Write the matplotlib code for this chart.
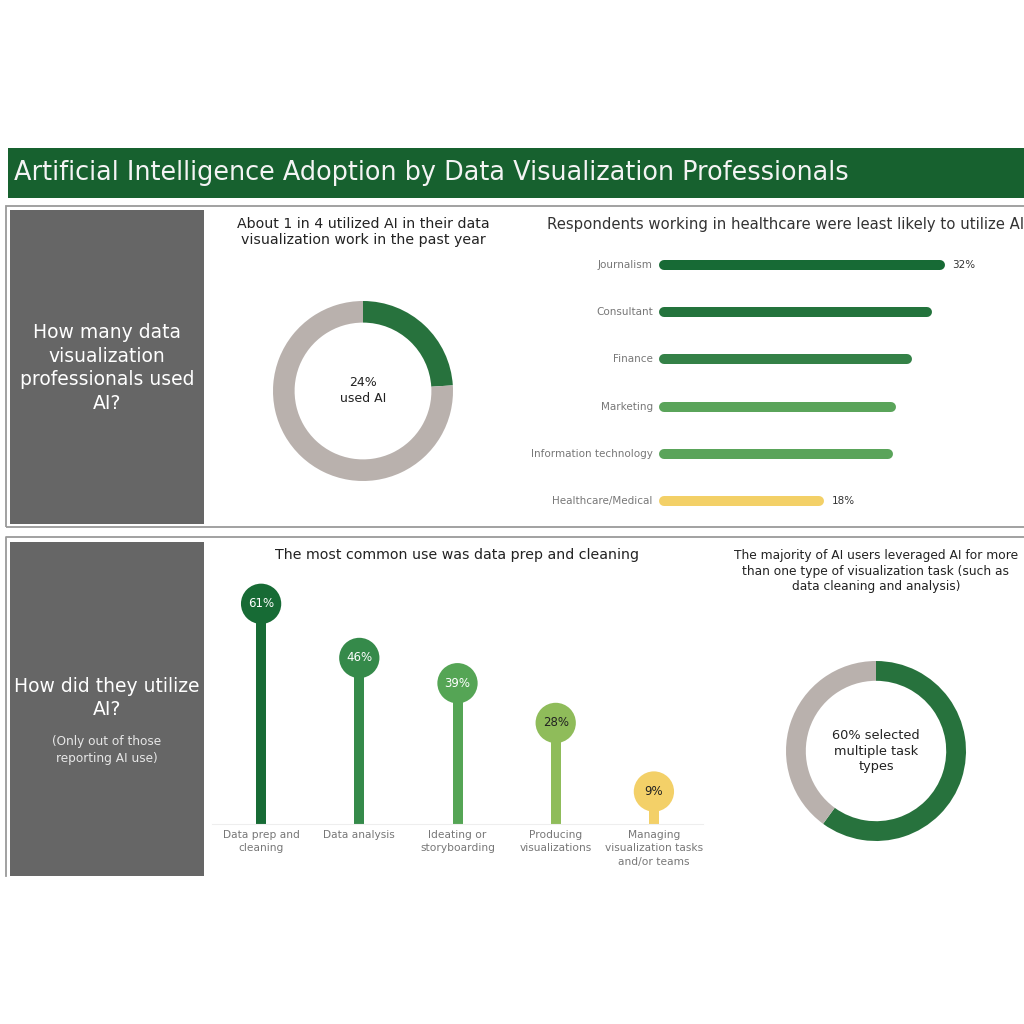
import matplotlib
matplotlib.use("Agg")
import matplotlib.pyplot as plt
from matplotlib.patches import Rectangle
from matplotlib.lines import Line2D

# ---------------- data ----------------
title = "Artificial Intelligence Adoption by Data Visualization Professionals"

used_ai_share = [24, 76]
used_ai_title = "About 1 in 4 utilized AI in their data\nvisualization work in the past year"
used_ai_center = "24%\nused AI"

industries = ["Journalism", "Consultant", "Finance", "Marketing",
              "Information technology", "Healthcare/Medical"]
industry_values = [32, 30.5, 28.2, 26.3, 26.0, 18]
industry_colors = ["#176a35", "#23733c", "#348147", "#5aa45a", "#5aa45a", "#f3d067"]
industry_labels = ["32%", "", "", "", "", "18%"]
industry_title = "Respondents working in healthcare were least likely to utilize AI"

tasks = ["Data prep and\ncleaning", "Data analysis", "Ideating or\nstoryboarding",
         "Producing\nvisualizations", "Managing\nvisualization tasks\nand/or teams"]
task_values = [61, 46, 39, 28, 9]
task_colors = ["#176b35", "#358a4a", "#55a555", "#8fbc5a", "#f3d068"]
task_text_colors = ["white", "white", "white", "#222222", "#222222"]
task_title = "The most common use was data prep and cleaning"

multi_share = [60, 40]
multi_title = ("The majority of AI users leveraged AI for more\n"
               "than one type of visualization task (such as\n"
               "data cleaning and analysis)")
multi_center = "60% selected\nmultiple task\ntypes"

q1 = "How many data\nvisualization\nprofessionals used\nAI?"
q2 = "How did they utilize\nAI?"
q2_sub = "(Only out of those\nreporting AI use)"

GREEN = "#27723d"
GREY = "#b9b1ad"
HEADER = "#17612f"
BOX = "#666666"
FRAME = "#9a9a9a"

# ---------------- figure ----------------
W = H = 1024
fig = plt.figure(figsize=(10.24, 10.24), dpi=100)
fig.patch.set_facecolor("white")


def fx(x):
    return x / W


def fy(y):
    return 1 - y / H


def ax_px(x0, y0, x1, y1):
    return fig.add_axes([fx(x0), fy(y1), (x1 - x0) / W, (y1 - y0) / H])


def rect_px(x0, y0, x1, y1, **kw):
    fig.patches.append(Rectangle((fx(x0), fy(y1)), (x1 - x0) / W, (y1 - y0) / H,
                                 transform=fig.transFigure, **kw))


def line_px(xs, ys, **kw):
    fig.lines.append(Line2D([fx(x) for x in xs], [fy(y) for y in ys],
                            transform=fig.transFigure, **kw))


# header
rect_px(8, 148, 1030, 198, facecolor=HEADER, edgecolor="none")
fig.text(fx(14), fy(173), title, color="#f4f4f4", fontsize=18.4, va="center", ha="left")

# panel frames
rect_px(6, 206, 1030, 527, facecolor="none", edgecolor=FRAME, linewidth=1.3)
line_px([6, 6, 1030], [876, 537, 537], color=FRAME, linewidth=1.3)

# grey question boxes
rect_px(10, 210, 204, 524, facecolor=BOX, edgecolor="none")
rect_px(10, 542, 204, 876, facecolor=BOX, edgecolor="none")
fig.text(fx(107), fy(368), q1, color="white", fontsize=13.5, ha="center", va="center",
         linespacing=1.3)
fig.text(fx(107), fy(698), q2, color="white", fontsize=13.5, ha="center", va="center",
         linespacing=1.3)
fig.text(fx(107), fy(750), q2_sub, color="#e6e6e6", fontsize=8.7, ha="center", va="center",
         linespacing=1.4)

# ---------- donut 1 ----------
ax1 = ax_px(273, 301, 453, 481)
ax1.pie(used_ai_share, colors=[GREEN, GREY], startangle=90, counterclock=False,
        wedgeprops=dict(width=0.24, edgecolor="none"), radius=1)
ax1.set_xlim(-1, 1)
ax1.set_ylim(-1, 1)
ax1.set_aspect("equal")
ax1.text(0, 0, used_ai_center, ha="center", va="center", fontsize=9, color="#222222",
         linespacing=1.3)
fig.text(fx(363), fy(232), used_ai_title, ha="center", va="center", fontsize=10.2,
         color="#222222", linespacing=1.2)

# ---------- horizontal rounded bars ----------
ax2 = ax_px(664, 241.4, 1024, 524.6)
n = len(industries)
for i, (v, c) in enumerate(zip(industry_values, industry_colors)):
    ax2.plot([0, v], [i, i], color=c, linewidth=7.2, solid_capstyle="round",
             clip_on=False)
    if industry_labels[i]:
        ax2.text(v + 1.4, i, industry_labels[i], va="center", ha="left",
                 fontsize=7.5, color="#333333")
    ax2.text(-1.3, i, industries[i], va="center", ha="right", fontsize=7.5,
             color="#777777")
ax2.set_xlim(0, 360 / 8.625)
ax2.set_ylim(n - 0.5, -0.5)
ax2.axis("off")
fig.text(fx(786), fy(224), industry_title, ha="center", va="center", fontsize=10.7,
         color="#333333")

# ---------- lollipop ----------
ax3 = ax_px(212, 570, 703, 824)
xs = list(range(len(tasks)))
ax3.vlines(xs, 0, task_values, colors=task_colors, linewidth=7.2)
ax3.scatter(xs, task_values, s=29 ** 2, c=task_colors, zorder=3, linewidths=0)
for x, v, tc in zip(xs, task_values, task_text_colors):
    ax3.text(x, v, f"{v}%", ha="center", va="center", fontsize=8.5, color=tc, zorder=4)
ax3.set_xlim(-0.5, len(tasks) - 0.5)
ax3.set_ylim(0, 254 / 3.61)
ax3.set_xticks(xs)
ax3.set_xticklabels(tasks, fontsize=7.7, color="#777777", linespacing=1.45)
ax3.tick_params(axis="x", length=0, pad=4)
ax3.set_yticks([])
for s in ["top", "right", "left"]:
    ax3.spines[s].set_visible(False)
ax3.spines["bottom"].set_color("#eeeeee")
ax3.spines["bottom"].set_linewidth(0.8)
fig.text(fx(457), fy(555), task_title, ha="center", va="center", fontsize=10.2,
         color="#222222")

# ---------- donut 2 ----------
ax4 = ax_px(786, 661, 966, 841)
ax4.pie(multi_share, colors=[GREEN, GREY], startangle=90, counterclock=False,
        wedgeprops=dict(width=0.22, edgecolor="none"), radius=1)
ax4.set_xlim(-1, 1)
ax4.set_ylim(-1, 1)
ax4.set_aspect("equal")
ax4.text(0, 0, multi_center, ha="center", va="center", fontsize=9.3, color="#222222",
         linespacing=1.25)
fig.text(fx(876), fy(571), multi_title, ha="center", va="center", fontsize=8.8,
         color="#222222", linespacing=1.25)

fig.savefig("out.png", dpi=100, facecolor="white")
